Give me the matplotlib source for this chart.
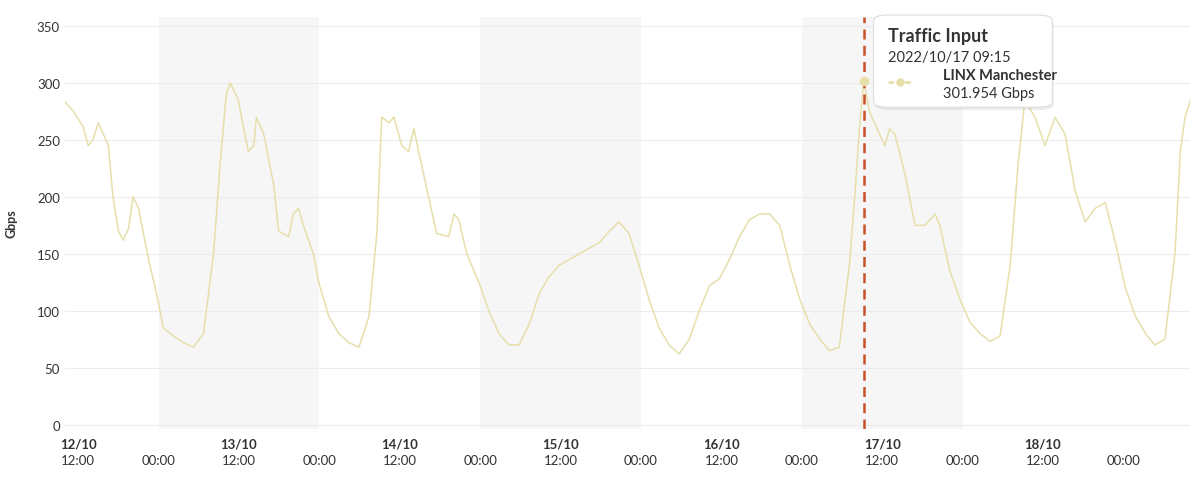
import matplotlib
matplotlib.use("Agg")
import matplotlib.pyplot as plt
import matplotlib.dates as mdates
from matplotlib.patches import FancyBboxPatch
import numpy as np
from datetime import datetime, timedelta

plt.rcParams['font.family'] = ['Lato', 'DejaVu Sans']

start = datetime(2022, 10, 12, 12, 0)
hours = [-1.9,-0.7,0.7,1.5,2.2,3.0,4.5,5.2,6.0,6.7,7.5,8.2,9.0,10.5,11.7,12.7,14.2,15.7,17.2,18.7,
         20.2,21.2,22.1,22.7,23.9,24.7,25.4,26.2,26.6,27.7,29.2,29.9,31.4,32.1,32.9,33.6,35.1,35.9,
         37.4,38.9,40.4,41.9,43.4,44.6,45.3,46.4,47.1,48.3,49.3,50.1,50.8,52.3,53.5,55.3,56.1,56.8,
         58.0,59.8,61.3,62.8,64.3,65.8,67.3,68.8,70.3,71.8,74.8,77.8,79.3,80.7,82.2,83.7,85.2,86.7,
         88.2,89.7,91.2,92.7,94.2,95.7,97.2,98.7,100.2,101.7,103.2,104.7,106.2,107.7,109.2,110.7,
         112.1,113.6,115.1,115.9,116.6,117.25,118.1,119.6,120.4,121.1,121.9,123.4,124.9,126.4,127.9,
         128.6,130.1,131.6,133.1,134.6,136.1,137.6,139.1,140.3,141.3,142.8,144.3,145.8,147.3,148.8,
         150.3,151.8,153.3,154.8,156.3,157.8,159.3,160.7,162.2,163.7,164.5,165.2,166.0]
gbps = [283,275,262,245,250,265,245,200,170,162,172,200,190,145,115,85,78,72,68,80,
        150,230,290,300,285,260,240,245,270,255,210,170,165,185,190,175,150,125,
        95,80,72,68,95,170,270,265,270,245,240,260,240,200,168,165,185,180,
        150,125,100,80,70,70,88,115,130,140,150,160,170,178,168,140,110,85,
        70,62,75,100,122,128,145,165,180,185,185,175,140,110,88,75,
        65,68,140,200,260,302,275,255,245,260,255,220,175,175,185,
        175,135,110,90,80,73,78,140,230,285,270,245,270,255,205,
        178,190,195,160,120,95,80,70,75,150,240,270,285]

shade_days = ["2022-10-13", "2022-10-15", "2022-10-17"]
hover_time = datetime(2022, 10, 17, 9, 15)
hover_value = 301.954

times = [start + timedelta(hours=h) for h in hours]

fig = plt.figure(figsize=(12, 4.85), dpi=100)
ax = fig.add_axes([0.054, 0.113, 0.938, 0.85])
line_c = '#e6dfab'
ax.plot(times, gbps, color=line_c, lw=1.1)
for d in shade_days:
    d0 = datetime.strptime(d, "%Y-%m-%d")
    ax.axvspan(d0, d0 + timedelta(days=1), color='#f6f6f6', zorder=0, lw=0)
ax.set_xlim(start + timedelta(hours=-2), start + timedelta(hours=166))
ax.set_ylim(-4, 358)
ax.set_yticks(range(0, 351, 50))
ax.grid(axis='y', color='#ececec', lw=0.8)
ax.set_axisbelow(True)
for s in ax.spines.values():
    s.set_visible(False)
ax.tick_params(length=0, colors='#333333', labelsize=9.5)
ax.set_ylabel('Gbps', fontsize=9, fontweight='bold', color='#333333', labelpad=14)

ticks = [start + timedelta(hours=12*i) for i in range(14)]
ax.set_xticks(ticks)
ax.set_xticklabels([t.strftime('%H:%M') for t in ticks])
ax.tick_params(axis='x', pad=18)
for t in ticks[::2]:
    ax.text(t, -0.02, t.strftime('%d/%m'), transform=ax.get_xaxis_transform(),
            ha='center', va='top', fontsize=9.5, fontweight='bold', color='#333333')

ax.axvline(hover_time, color='#c9502a', ls=(0, (4, 2.5)), lw=1.8, zorder=5)
ax.plot([hover_time], [hover_value], 'o', color=line_c, ms=6, zorder=6)

box = FancyBboxPatch((0.728, 0.777), 0.149, 0.19, boxstyle='round,pad=0,rounding_size=0.012',
                     transform=fig.transFigure, facecolor='white', edgecolor='#dddddd', lw=0.8,
                     zorder=10)
shadow = FancyBboxPatch((0.729, 0.771), 0.149, 0.19, boxstyle='round,pad=0,rounding_size=0.012',
                        transform=fig.transFigure, facecolor='#00000012', edgecolor='none', zorder=9)
fig.patches.extend([shadow, box])
fig.text(0.740, 0.925, 'Traffic Input', fontsize=13, fontweight='bold', color='#333333', va='center', zorder=11)
fig.text(0.740, 0.880, '2022/10/17 09:15', fontsize=10.5, color='#333333', va='center', zorder=11)
fig.text(0.786, 0.843, 'LINX Manchester', fontsize=10.5, fontweight='bold', color='#333333', va='center', zorder=11)
fig.text(0.786, 0.806, '301.954 Gbps', fontsize=10.5, color='#333333', va='center', zorder=11)
fig.lines.append(plt.Line2D([0.740, 0.760], [0.829, 0.829], transform=fig.transFigure, color=line_c,
                            lw=2, ls=(0, (2, 1)), zorder=11))
fig.lines.append(plt.Line2D([0.750], [0.829], transform=fig.transFigure, color=line_c,
                            marker='o', ms=5, zorder=12))

fig.savefig('out.png', dpi=100, facecolor='white')
